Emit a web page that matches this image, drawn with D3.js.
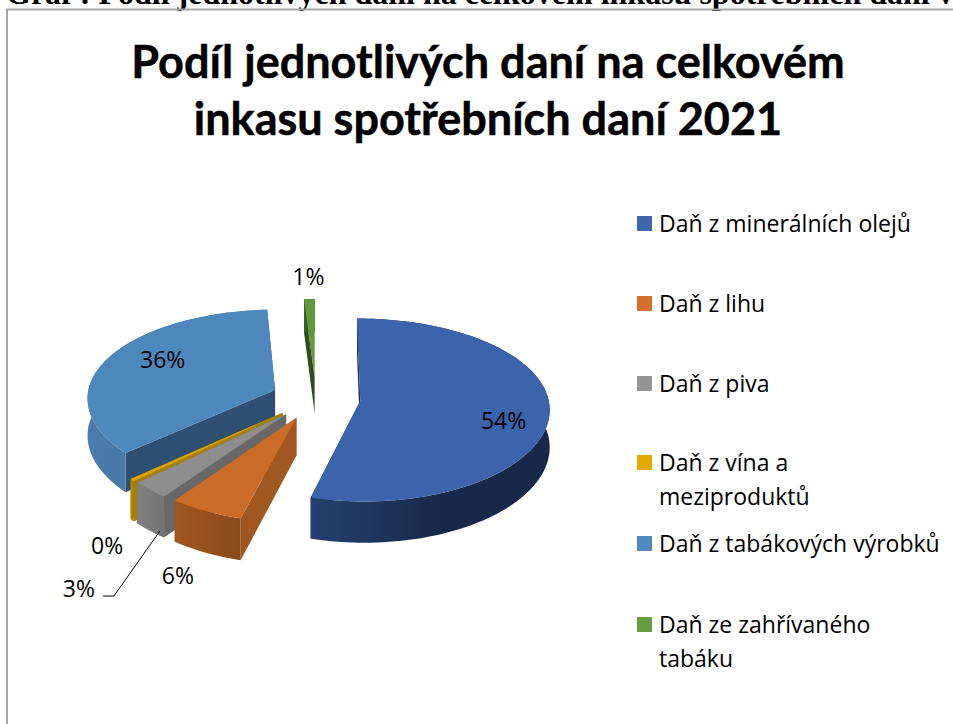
<!DOCTYPE html>
<html><head><meta charset="utf-8">
<script src="https://cdnjs.cloudflare.com/ajax/libs/d3/7.8.5/d3.min.js"></script>
<style>html,body{margin:0;background:#fff;overflow:hidden}svg{display:block}</style>
</head><body><svg width="953" height="724"></svg>
<script>
const heading = "Graf : Podíl jednotlivých daní na celkovém inkasu spotřebních daní v";
const titleLines = ["Podíl jednotlivých daní na celkovém", "inkasu spotřebních daní 2021"];
const categories = ["Daň z minerálních olejů","Daň z lihu","Daň z piva","Daň z vína a meziproduktů","Daň z tabákových výrobků","Daň ze zahřívaného tabáku"];
const legendLines = [["Daň z minerálních olejů"],["Daň z lihu"],["Daň z piva"],["Daň z vína a","meziproduktů"],["Daň z tabákových výrobků"],["Daň ze zahřívaného","tabáku"]];
const values = [54.2, 5.8, 3.0, 0.4, 35.6, 1.0];
const topColors = ["#3b64ad","#cc6c29","#8e8e8e","#dba400","#4e87bc","#62993f"];
const swatchColors = ["#3f67b0","#d4702b","#949494","#e5a900","#5189bf","#669c42"];
const wallColors = ["#1b2d4f","#a05720","#686868","#a87f00","#2f4f72","#2e4d1f"];
const rimLeft = ["#25406f","#a0571f","#808080","#b88a00","#4a7dac","#3a6127"];
const rimRight = ["#17294a","#8a4a1b","#747474","#a87f00","#3d6d9a","#2e4d1f"];
const paintOrder = [5,4,0,3,2,1];
const labelOffsets = [[-46,8],[-28,65],[-71,99],[-25,66],[54,2],[-1,-22]];
const legendRowY = [224,304,384,463,544,625];

const cx=316, cy=398, Rx=188, Ry=90, perspX=0.08, perspY=0.1, explode=0.237, depth=37;
const svg=d3.select("svg"), defs=svg.append("defs");
const xS=d3.scaleLinear().domain([-1,1]).range([cx-Rx,cx+Rx]);
const yS=d3.scaleLinear().domain([-1,1]).range([cy-Ry,cy+Ry]);
const project=(u,v,z=0)=>{const sx=1/(1-perspX*v), sy=1/(1-perspY*v);return [xS(u*sx),yS(v*sy)+z*sy];};
const line=d3.line();
const pie=d3.pie().sort(null).value(d=>d);
const arcs=pie(values);
const geom=arcs.map(a=>{
  const mid=(a.startAngle+a.endAngle)/2;
  const bu=Math.sin(mid)*explode, bv=-Math.cos(mid)*explode;
  const n=Math.max(2,Math.ceil((a.endAngle-a.startAngle)/0.03));
  const rim=d3.range(n+1).map(i=>{const t=a.startAngle+(a.endAngle-a.startAngle)*i/n;return [bu+Math.sin(t),bv-Math.cos(t)];});
  return {mid,bu,bv,rim};
});

svg.append("text").attr("x",6).attr("y",4).attr("font-family","Liberation Serif").attr("font-weight","bold").attr("font-size",32).attr("fill","#000").text(heading);
svg.append("path").attr("d",line([[7,724],[7,9.5],[953,9.5]])).attr("fill","none").attr("stroke","#a6a6a6").attr("stroke-width",2);

svg.selectAll("text.title").data(titleLines).join("text").attr("class","title")
  .attr("x",488).attr("y",(d,i)=>78+i*57).attr("text-anchor","middle")
  .attr("font-family","Lato").attr("font-weight","bold").attr("font-size",45).attr("fill","#000").attr("stroke","#000").attr("stroke-width",0.5).text(d=>d);

paintOrder.forEach(i=>{
  const g=geom[i], grp=svg.append("g");
  const apex=[g.bu,g.bv];
  const wall=(p)=>line([project(apex[0],apex[1]),project(p[0],p[1]),project(p[0],p[1],depth),project(apex[0],apex[1],depth)])+"Z";
  grp.append("path").attr("d",wall(g.rim[0])).attr("fill",wallColors[i]);
  grp.append("path").attr("d",wall(g.rim[g.rim.length-1])).attr("fill",wallColors[i]);
  const topPts=g.rim.map(p=>project(p[0],p[1]));
  const botPts=g.rim.map(p=>project(p[0],p[1],depth));
  const xs=topPts.map(p=>p[0]);
  const gid="rim"+i;
  const gr=defs.append("linearGradient").attr("id",gid).attr("gradientUnits","userSpaceOnUse")
    .attr("x1",d3.min(xs)).attr("x2",d3.max(xs)).attr("y1",0).attr("y2",0);
  gr.append("stop").attr("offset",0).attr("stop-color",rimLeft[i]);
  gr.append("stop").attr("offset",i===0?0.55:1).attr("stop-color",rimRight[i]);
  grp.append("path").attr("d",line(topPts.concat(botPts.slice().reverse()))+"Z").attr("fill",`url(#${gid})`);
  grp.append("path").attr("d",line([project(apex[0],apex[1])].concat(topPts))+"Z").attr("fill",topColors[i]);
});

const labelPos=geom.map((g,i)=>{
  const p=project(g.bu+Math.sin(g.mid),g.bv-Math.cos(g.mid));
  return {rim:p,x:p[0]+labelOffsets[i][0],y:p[1]+labelOffsets[i][1]};
});
const lp=labelPos[2];
svg.append("path").attr("d",line([[lp.x+24,lp.y+7],[lp.x+35,lp.y+7],[lp.rim[0]+10,lp.rim[1]+41]])).attr("fill","none").attr("stroke","#000").attr("stroke-width",1);
svg.selectAll("text.dl").data(arcs).join("text").attr("class","dl")
  .attr("x",(d,i)=>labelPos[i].x).attr("y",(d,i)=>labelPos[i].y).attr("dy","0.36em").attr("text-anchor","middle")
  .attr("font-family","Open Sans").attr("font-size",23).attr("fill","#000")
  .text(d=>d3.format(".0f")(d.value)+"%");

const lg=svg.selectAll("g.lg").data(categories).join("g").attr("class","lg");
lg.append("rect").attr("x",637).attr("y",(d,i)=>legendRowY[i]-8).attr("width",15).attr("height",15).attr("fill",(d,i)=>swatchColors[i]);
lg.each(function(d,i){
  d3.select(this).selectAll("text").data(legendLines[i]).join("text")
    .attr("x",659).attr("y",(t,j)=>legendRowY[i]+8+j*34)
    .attr("font-family","Open Sans").attr("font-size",23).attr("fill","#000").text(t=>t);
});
</script></body></html>
